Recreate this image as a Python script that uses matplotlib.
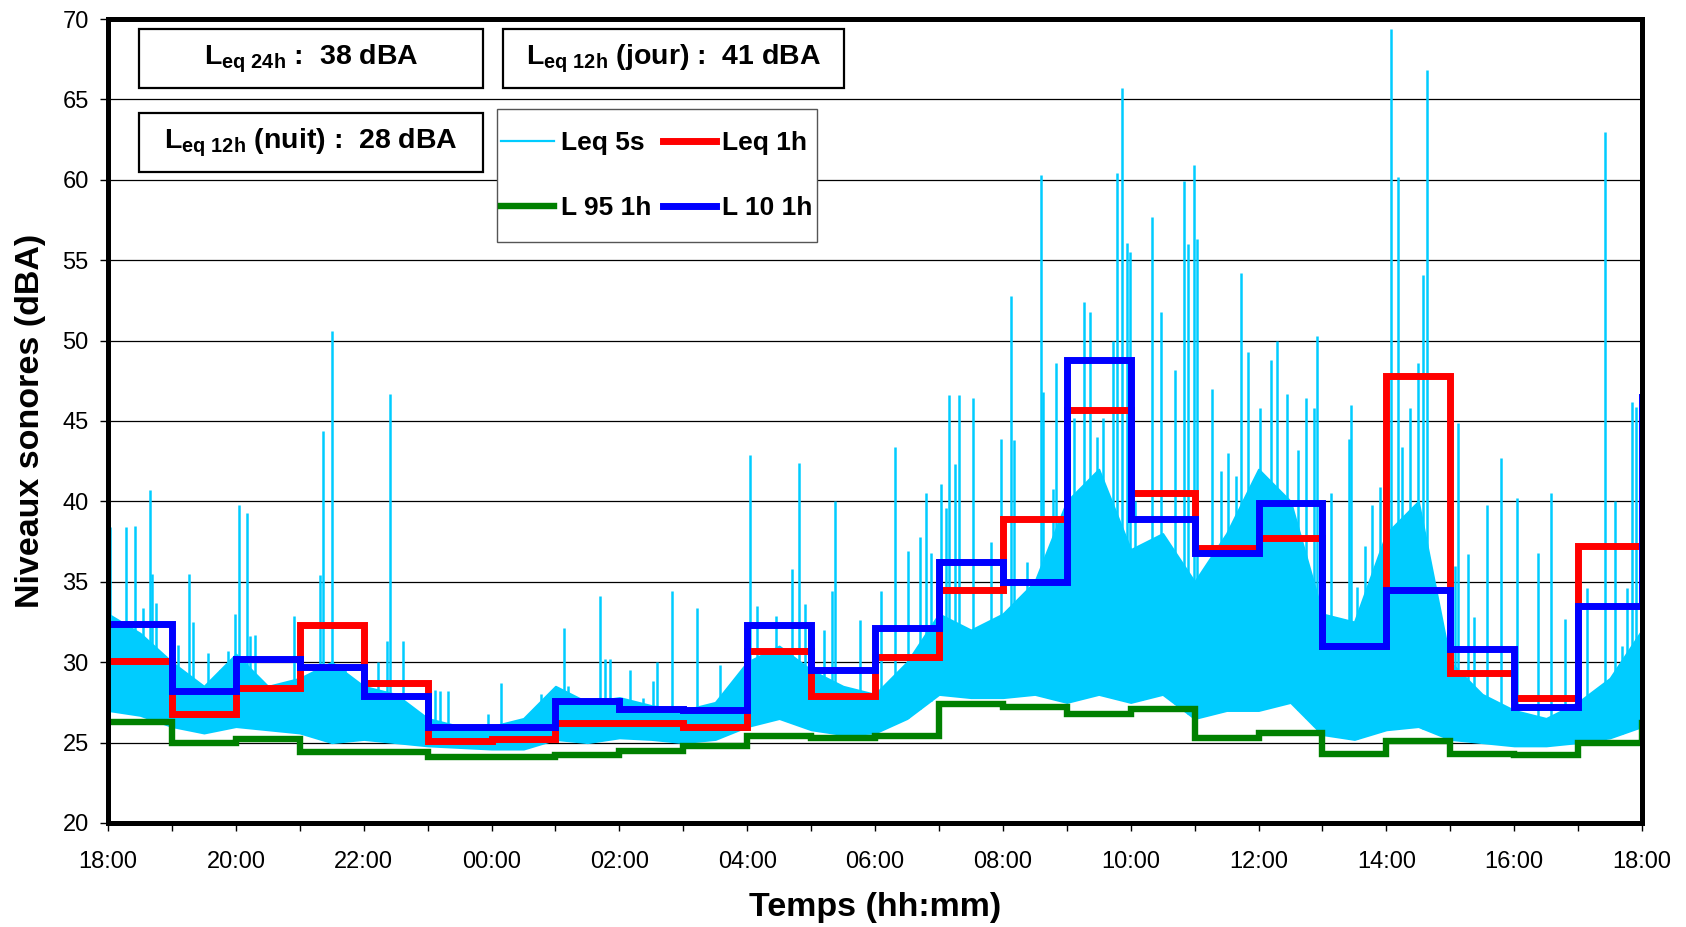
import numpy as np
import matplotlib
matplotlib.use('Agg')
import matplotlib.pyplot as plt
from matplotlib.patches import Rectangle

plt.rcParams['font.family'] = ['Liberation Sans', 'DejaVu Sans']
plt.rcParams['mathtext.fontset'] = 'custom'
plt.rcParams['mathtext.rm'] = 'Liberation Sans:bold'
plt.rcParams['mathtext.it'] = 'Liberation Sans:bold'
plt.rcParams['mathtext.bf'] = 'Liberation Sans:bold'

# hours since 18:00, one value per hour (last one = start of the next 18:00 hour)
hours = np.arange(25)
leq_1h = [30.1, 26.8, 28.4, 32.3, 28.7, 25.1, 25.2, 26.2, 26.2, 26.0, 30.7, 27.9,
          30.3, 34.5, 38.9, 45.7, 40.5, 37.1, 37.7, 31.0, 47.8, 29.3, 27.8, 37.2, 37.2]
l95_1h = [26.3, 25.0, 25.2, 24.4, 24.4, 24.1, 24.1, 24.2, 24.5, 24.8, 25.4, 25.3,
          25.4, 27.4, 27.2, 26.8, 27.1, 25.3, 25.6, 24.3, 25.1, 24.3, 24.2, 25.0, 26.2]
l10_1h = [32.4, 28.2, 30.2, 29.7, 27.9, 26.0, 26.0, 27.6, 27.1, 27.0, 32.3, 29.5,
          32.1, 36.2, 35.0, 48.8, 38.9, 36.8, 39.9, 31.0, 34.5, 30.8, 27.2, 33.5, 46.5]

# Leq 5s trace: dense band read every half hour (low / high edge)
band_t = np.arange(0, 24.5, 0.5)
band_low = [27.0, 26.7, 26.0, 25.6, 26.0, 25.8, 25.6, 25.0, 25.2, 25.0, 24.8, 24.7,
            24.6, 24.6, 25.2, 25.0, 25.3, 25.2, 25.0, 25.2, 26.0, 26.5, 25.8, 25.5,
            25.6, 26.5, 28.0, 27.8, 27.8, 28.0, 27.5, 28.0, 27.5, 28.0, 26.5, 27.0,
            27.0, 27.5, 25.5, 25.2, 25.8, 26.0, 25.2, 25.0, 24.8, 24.8, 25.0, 25.3, 26.0]
band_high = [33.0, 31.8, 30.0, 28.5, 30.5, 28.5, 29.0, 30.0, 28.5, 28.0, 26.5, 26.0,
             26.0, 26.5, 28.5, 27.5, 27.8, 27.3, 27.0, 27.5, 30.0, 31.0, 29.5, 28.5,
             28.0, 30.0, 33.0, 32.0, 33.0, 35.0, 40.0, 42.0, 37.0, 38.0, 35.0, 38.0,
             42.0, 40.0, 33.0, 32.5, 38.0, 40.0, 30.0, 28.0, 27.0, 26.5, 27.5, 29.0, 32.0]
# Leq 5s peaks (hours since 18:00, dBA)
peak_t = [0.03, 0.28, 0.42, 0.55, 0.65, 0.68, 0.75, 1.10, 1.26, 1.33, 1.57, 1.75,
          1.88, 1.98, 2.05, 2.18, 2.22, 2.30, 2.91, 3.32, 3.37, 3.51, 3.71, 3.81,
          4.22, 4.37, 4.41, 4.62, 5.12, 5.19, 5.32, 5.95,
          6.15, 6.78, 7.13, 7.19, 7.70, 7.77, 7.85, 8.16, 8.37, 8.53, 8.59, 8.83,
          9.21, 9.58, 10.05, 10.15, 10.45, 10.70, 10.81, 10.90, 11.20, 11.32, 11.37, 11.76,
          12.10, 12.32, 12.51, 12.70, 12.80, 12.87, 13.03, 13.11, 13.15, 13.25, 13.31, 13.53,
          13.81, 13.97, 14.13, 14.18, 14.38, 14.59, 14.63, 14.78, 14.83, 15.12, 15.27, 15.37,
          15.47, 15.57, 15.73, 15.79, 15.86, 15.94, 15.99, 16.07, 16.17, 16.34, 16.48, 16.69,
          16.84, 16.90, 16.99, 17.03, 17.27, 17.42, 17.52, 17.65, 17.72, 17.83,
          18.02, 18.19, 18.29, 18.44, 18.62, 18.75, 18.87, 18.92, 19.14, 19.42, 19.45, 19.54,
          19.66, 19.78, 19.90, 20.07, 20.18, 20.24, 20.37, 20.50, 20.58, 20.64, 21.07, 21.12,
          21.28, 21.37, 21.57, 21.79, 22.05, 22.37, 22.57, 22.79, 23.14, 23.42, 23.57, 23.68,
          23.77, 23.84, 23.90]
peak_v = [38.4, 38.4, 38.5, 33.4, 40.7, 35.5, 33.7, 31.1, 35.5, 32.5, 30.6, 29.5,
          30.7, 33.0, 39.8, 39.3, 31.6, 31.7, 32.9, 35.4, 44.4, 50.6, 29.5, 28.5,
          30.0, 31.3, 46.7, 31.3, 28.3, 28.2, 28.2, 26.8,
          28.7, 28.0, 32.1, 28.5, 34.1, 30.2, 30.2, 29.5, 27.8, 28.8, 30.0, 34.4,
          33.4, 29.8, 42.9, 33.5, 32.9, 35.8, 42.4, 33.6, 32.0, 34.4, 40.0, 32.6,
          34.4, 43.4, 36.9, 37.8, 40.5, 36.8, 41.1, 39.6, 46.6, 42.3, 46.6, 46.4,
          37.5, 43.9, 52.8, 43.8, 36.2, 60.3, 46.8, 40.8, 48.6, 45.2, 52.4, 51.8,
          44.0, 45.2, 50.0, 60.4, 65.7, 56.1, 55.5, 40.0, 36.5, 57.7, 51.8, 48.2,
          59.9, 56.0, 60.9, 56.3, 47.0, 41.9, 43.0, 41.6, 54.2, 49.3,
          45.8, 48.8, 50.0, 46.7, 43.2, 46.4, 45.8, 50.3, 40.5, 43.9, 46.0, 34.7,
          37.2, 39.8, 40.9, 69.4, 60.2, 43.4, 45.8, 48.6, 54.1, 66.8, 36.0, 44.9,
          36.7, 32.8, 39.8, 42.7, 40.2, 36.8, 40.5, 32.7, 34.6, 63.0, 40.0, 31.0,
          34.6, 46.2, 45.9]

xtick_pos = list(range(0, 25, 2))
xtick_labels = ['18:00', '20:00', '22:00', '00:00', '02:00', '04:00', '06:00',
                '08:00', '10:00', '12:00', '14:00', '16:00', '18:00']
ytick_pos = list(range(20, 75, 5))

box_texts = [r'L$_{\rm eq\ 24h}$ :  38 dBA',
             r'L$_{\rm eq\ 12h}$ (jour) :  41 dBA',
             r'L$_{\rm eq\ 12h}$ (nuit) :  28 dBA']

CYAN = '#00CCFF'

fig = plt.figure(figsize=(16.86, 9.27), dpi=100)
ax = fig.add_axes([0.0641, 0.1122, 0.9098, 0.8673])
ax.set_axisbelow(True)
ax.yaxis.grid(True, color='black', lw=0.9)

ax.fill_between(band_t, band_low, band_high, color=CYAN, lw=1.5, zorder=2)
base = np.interp(peak_t, band_t, band_low)
ax.vlines(peak_t, base, peak_v, color=CYAN, lw=1.8, zorder=2)
ax.plot([], [], color=CYAN, lw=1.6, label='Leq 5s')

ax.step(hours, leq_1h, where='post', color='#FF0000', lw=5, label='Leq 1h', zorder=3,
        solid_joinstyle='miter')
ax.step(hours, l95_1h, where='post', color='#008000', lw=4.6, label='L 95 1h', zorder=3,
        solid_joinstyle='miter')
ax.step(hours, l10_1h, where='post', color='#0000FF', lw=5, label='L 10 1h', zorder=4,
        solid_joinstyle='miter')

ax.set_xlim(0, 24)
ax.set_ylim(20, 70)
ax.set_xticks(xtick_pos)
ax.set_xticklabels(xtick_labels)
ax.set_xticks(range(25), minor=True)
ax.set_yticks(ytick_pos)
ax.tick_params(axis='x', which='both', length=6, width=1, direction='out', pad=14,
               labelsize=17)
ax.tick_params(axis='y', length=6, width=1, direction='out', pad=8, labelsize=17)
for sp in ax.spines.values():
    sp.set_linewidth(3.6)
    sp.set_zorder(6)

fig.text(0.519, 0.0205, 'Temps (hh:mm)', ha='center', va='center',
         fontsize=24.5, fontweight='bold')
fig.text(0.0178, 0.546, 'Niveaux sonores (dBA)', ha='center', va='center',
         rotation=90, fontsize=24.5, fontweight='bold')

# summary boxes
box_geom = [(0.0202, 0.9142), (0.2575, 0.9142), (0.0202, 0.8097)]
box_w = [0.2243, 0.2223, 0.2243]
for (x0, y0), w, txt in zip(box_geom, box_w, box_texts):
    ax.add_patch(Rectangle((x0, y0), w, 0.0734, transform=ax.transAxes,
                           facecolor='white', edgecolor='black', lw=1.6, zorder=7))
    ax.text(x0 + w / 2, y0 + 0.0367, txt, transform=ax.transAxes, ha='center',
            va='center', fontsize=20.5, fontweight='bold', zorder=8)

# legend frame drawn separately so the padding can differ horizontally / vertically
leg_x0, leg_y0, leg_w, leg_h = 0.2536, 0.7226, 0.2086, 0.1654
ax.add_patch(Rectangle((leg_x0, leg_y0), leg_w, leg_h, transform=ax.transAxes,
                       facecolor='white', edgecolor='#555555', lw=1.0, zorder=7))
handles, labels = ax.get_legend_handles_labels()
order = [labels.index(l) for l in ['Leq 5s', 'L 95 1h', 'Leq 1h', 'L 10 1h']]
leg = ax.legend([handles[i] for i in order], [labels[i] for i in order], ncol=2,
                loc='center', bbox_to_anchor=(leg_x0 + leg_w / 2, leg_y0 + leg_h / 2),
                borderaxespad=0, borderpad=0, frameon=False,
                prop={'weight': 'bold', 'size': 19}, handlelength=2.0,
                handletextpad=0.25, columnspacing=0.45, labelspacing=1.54)
leg.set_zorder(9)

fig.savefig('out.png', dpi=100)
